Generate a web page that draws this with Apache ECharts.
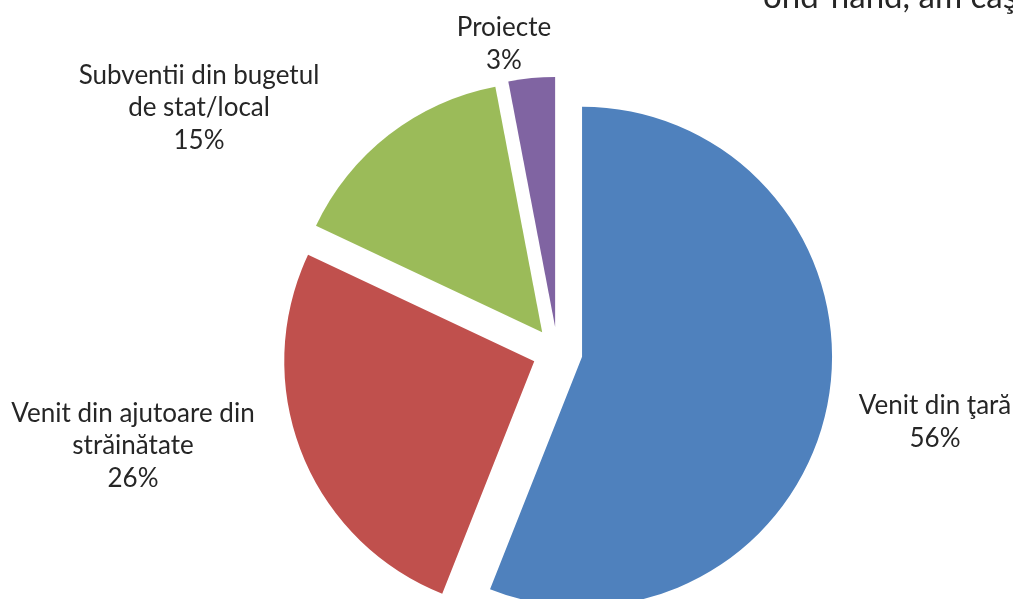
<!DOCTYPE html>
<html>
<head>
<meta charset="utf-8">
<script src="https://cdn.jsdelivr.net/npm/echarts@6/dist/echarts.min.js"></script>
<style>
html,body{margin:0;padding:0;background:#fff;}
#chart{width:1013px;height:599px;}
</style>
</head>
<body>
<div id="chart"></div>
<script>
const categories = ['Venit din ţară', 'Venit din ajutoare din\nstrăinătate', 'Subventii din bugetul\nde stat/local', 'Proiecte'];
const values = [56, 26, 15, 3];
const colors = ['#4F81BD', '#C0504D', '#9BBB59', '#8064A2'];
const labelPos = [[935, 422], [133, 446], [199, 108], [504, 44]];
const topText = 'ond-hand, am caş';

const chart = echarts.init(document.getElementById('chart'), null, {renderer: 'canvas'});
const FONT = 'Lato';
const total = values.reduce((a, b) => a + b, 0);

const labelGraphics = categories.map((c, i) => ({
  type: 'text',
  x: labelPos[i][0],
  y: labelPos[i][1],
  silent: true,
  style: {
    text: c + '\n' + Math.round(values[i] / total * 100) + '%',
    font: '26px ' + FONT,
    lineHeight: 32.5,
    fill: '#262626',
    align: 'center',
    verticalAlign: 'middle'
  }
}));

const option = {
  animation: false,
  graphic: [{
    type: 'text',
    x: 763,
    y: -3,
    silent: true,
    style: {
      text: topText,
      font: '33px ' + FONT,
      fill: '#262626',
      align: 'left',
      verticalAlign: 'middle'
    }
  }].concat(labelGraphics),
  series: [{
    type: 'pie',
    center: [557.5, 352],
    radius: [0, 250],
    startAngle: 90,
    clockwise: true,
    selectedMode: 'multiple',
    selectedOffset: 25,
    avoidLabelOverlap: false,
    silent: true,
    emphasis: {scale: false},
    label: {show: false},
    labelLine: {show: false},
    data: categories.map((c, i) => ({
      name: c,
      value: values[i],
      selected: true,
      itemStyle: {color: colors[i]}
    }))
  }]
};
chart.setOption(option);
</script>
</body>
</html>
